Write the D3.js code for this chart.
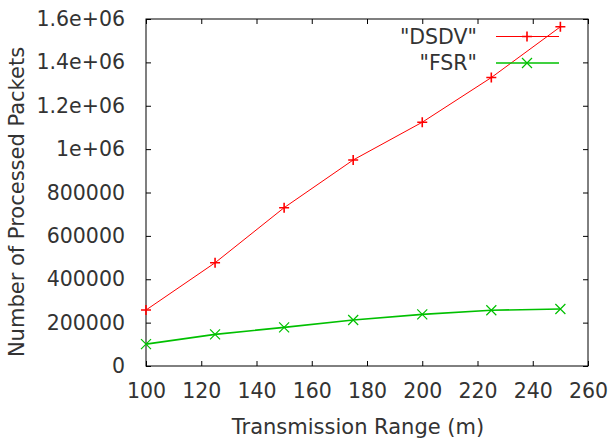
<!DOCTYPE html>
<html>
<head>
<meta charset="utf-8">
<script src="https://cdn.jsdelivr.net/npm/d3@7"></script>
<style>
  html, body { margin: 0; padding: 0; background: #fff; }
  svg { display: block; }
  text { font-family: "DejaVu Sans", sans-serif; fill: #333; }
</style>
</head>
<body>
<svg id="chart" width="608" height="441"></svg>
<script>
// Transmission range (m)
const ranges = [100, 125, 150, 175, 200, 225, 250];
// Processed packets per protocol
const dsdv = [258000, 476000, 730000, 950000, 1124000, 1330000, 1564000];
const fsr  = [101000, 146000, 178000, 212000, 238000, 257000, 263000];

const xTicks = [100, 120, 140, 160, 180, 200, 220, 240, 260];
const yTicks = [0, 200000, 400000, 600000, 800000, 1000000, 1200000, 1400000, 1600000];

const series = [
  { name: '"DSDV"', values: dsdv, color: "#ff0000", width: 1, marker: "plus" },
  { name: '"FSR"',  values: fsr,  color: "#00c000", width: 1.6, marker: "cross" }
];

const svg = d3.select("#chart");
const m = { left: 146, right: 588, top: 19, bottom: 366 };

const x = d3.scaleLinear().domain([100, 260]).range([m.left, m.right]);
const y = d3.scaleLinear().domain([0, 1600000]).range([m.bottom, m.top]);

// gnuplot-style number labels
const fmtY = v => v >= 1e6 ? (v / 1e6) + "e+06" : String(v);

const FS = 20.5;
const tick = 5;

// frame
svg.append("rect")
  .attr("x", m.left).attr("y", m.top)
  .attr("width", m.right - m.left).attr("height", m.bottom - m.top)
  .attr("fill", "none").attr("stroke", "#000").attr("stroke-width", 1);

function styleAxis(g) {
  g.select(".domain").remove();
  g.selectAll(".tick line").attr("stroke", "#000");
  g.selectAll(".tick text").attr("font-size", FS).attr("fill", "#333")
    .attr("font-family", '"DejaVu Sans", sans-serif');
}

// bottom axis with labels, ticks pointing inward
svg.append("g").attr("transform", `translate(0,${m.bottom})`)
  .call(d3.axisBottom(x).tickValues(xTicks).tickSizeInner(-tick).tickSizeOuter(0)
    .tickPadding(17).tickFormat(d3.format("d")))
  .call(styleAxis);

// top mirror ticks
svg.append("g").attr("transform", `translate(0,${m.top})`)
  .call(d3.axisTop(x).tickValues(xTicks).tickSizeInner(-tick).tickSizeOuter(0).tickFormat(""))
  .call(styleAxis);

// left axis with labels
svg.append("g").attr("transform", `translate(${m.left},0)`)
  .call(d3.axisLeft(y).tickValues(yTicks).tickSizeInner(-tick).tickSizeOuter(0)
    .tickPadding(21).tickFormat(fmtY))
  .call(styleAxis);

// right mirror ticks
svg.append("g").attr("transform", `translate(${m.right},0)`)
  .call(d3.axisRight(y).tickValues(yTicks).tickSizeInner(-tick).tickSizeOuter(0).tickFormat(""))
  .call(styleAxis);

// axis titles
svg.append("text")
  .attr("x", (m.left + m.right) / 2 - 9).attr("y", 434)
  .attr("text-anchor", "middle").attr("font-size", 21)
  .text("Transmission Range (m)");

svg.append("text")
  .attr("transform", "translate(24,202) rotate(-90)")
  .attr("text-anchor", "middle").attr("font-size", 21)
  .text("Number of Processed Packets");

// markers
function drawMarker(g, cx, cy, type, color, r) {
  if (type === "plus") {
    g.append("path").attr("d", `M${cx - r},${cy}H${cx + r}M${cx},${cy - r}V${cy + r}`)
      .attr("stroke", color).attr("stroke-width", 1.6).attr("fill", "none");
  } else {
    g.append("path").attr("d", `M${cx - r},${cy - r}L${cx + r},${cy + r}M${cx - r},${cy + r}L${cx + r},${cy - r}`)
      .attr("stroke", color).attr("stroke-width", 1.2).attr("fill", "none");
  }
}

const line = d3.line().x(d => x(d[0])).y(d => y(d[1]));

series.forEach(s => {
  const pts = ranges.map((r, i) => [r, s.values[i]]);
  svg.append("path").datum(pts)
    .attr("d", line).attr("fill", "none")
    .attr("stroke", s.color).attr("stroke-width", s.width);
  const g = svg.append("g");
  pts.forEach(p => drawMarker(g, x(p[0]), y(p[1]), s.marker, s.color, 5));
});

// legend
const legY = [36.5, 63];
series.forEach((s, i) => {
  svg.append("text")
    .attr("x", 477).attr("y", legY[i]).attr("dy", "0.36em")
    .attr("text-anchor", "end").attr("font-size", FS)
    .text(s.name);
  svg.append("line")
    .attr("x1", 496).attr("x2", 559).attr("y1", legY[i]).attr("y2", legY[i])
    .attr("stroke", s.color).attr("stroke-width", s.width);
  drawMarker(svg, 527, legY[i], s.marker, s.color, 5);
});
</script>
</body>
</html>
